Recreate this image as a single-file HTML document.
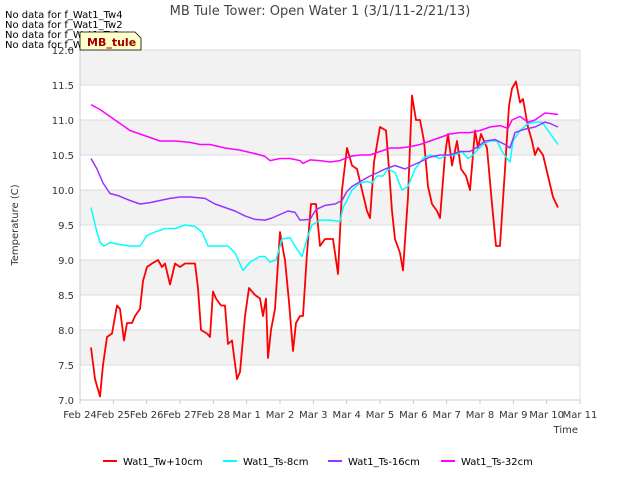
<!DOCTYPE html>
<html><head><meta charset="utf-8"><style>
body{margin:0;background:#fff;font-family:"Liberation Sans","DejaVu Sans",sans-serif}
svg text{font-family:"DejaVu Sans","Liberation Sans",sans-serif}
</style></head><body>
<svg id="c" width="640" height="480" xmlns="http://www.w3.org/2000/svg">
<rect width="640" height="480" fill="#fff"/>
<g id="bands"></g><g id="grid"></g>
<line x1="80" y1="50" x2="80" y2="400" stroke="#ccc"/>
<line x1="80" y1="400" x2="580" y2="400" stroke="#ccc"/>
<line x1="580" y1="50" x2="580" y2="400" stroke="#ddd"/>
<g id="yticks"></g><g id="xticks"></g><g id="series"></g>
<text x="320" y="15" text-anchor="middle" font-size="13" fill="#444">MB Tule Tower: Open Water 1 (3/1/11-2/21/13)</text>
<text x="18" y="225" text-anchor="middle" font-size="10" fill="#333" transform="rotate(-90 18 225)">Temperature (C)</text>
<text x="578" y="433" text-anchor="end" font-size="10" fill="#333">Time</text>
<g font-size="10" fill="#000">
<text x="5" y="18">No data for f_Wat1_Tw4</text>
<text x="5" y="28">No data for f_Wat1_Tw2</text>
<text x="5" y="38">No data for f_Wat1_Ts2</text>
<text x="5" y="48">No data for f_Wat1_Ts4</text>
</g>
<g>
<path d="M80,32 L135,32 L141,38 L141,50 L80,50 Z" fill="#ffffcc" stroke="#000" stroke-width="0.8"/>
<text x="87" y="46" font-size="11" font-weight="bold" fill="#a00000">MB_tule</text>
</g>
<g id="legend" font-size="10" fill="#000"></g>
</svg>
<script>
const yTicks=[7.0,7.5,8.0,8.5,9.0,9.5,10.0,10.5,11.0,11.5,12.0];
const xLabels=["Feb 24","Feb 25","Feb 26","Feb 27","Feb 28","Mar 1","Mar 2","Mar 3","Mar 4","Mar 5","Mar 6","Mar 7","Mar 8","Mar 9","Mar 10","Mar 11"];
const seriesNames=["Wat1_Tw+10cm","Wat1_Ts-8cm","Wat1_Ts-16cm","Wat1_Ts-32cm"];
const seriesColors=["#ff0000","#00ffff","#9933ff","#ff00ff"];
const tw10=[[.33,7.75],[.45,7.3],[.6,7.05],[.69,7.5],[.81,7.9],[.96,7.95],[1.11,8.35],[1.2,8.3],[1.32,7.85],[1.41,8.1],[1.56,8.1],[1.65,8.2],[1.8,8.3],[1.89,8.7],[2.01,8.9],[2.16,8.95],[2.34,9.0],[2.46,8.9],[2.55,8.95],[2.7,8.65],[2.85,8.95],[3.0,8.9],[3.15,8.95],[3.45,8.95],[3.54,8.6],[3.63,8.0],[3.81,7.95],[3.9,7.9],[3.99,8.55],[4.08,8.45],[4.23,8.35],[4.35,8.35],[4.44,7.8],[4.56,7.85],[4.71,7.3],[4.8,7.4],[4.95,8.2],[5.07,8.6],[5.25,8.5],[5.4,8.45],[5.49,8.2],[5.58,8.45],[5.64,7.6],[5.73,8.0],[5.85,8.3],[6.0,9.4],[6.09,9.15],[6.15,9.0],[6.27,8.4],[6.39,7.7],[6.48,8.1],[6.6,8.2],[6.69,8.2],[6.81,9.1],[6.93,9.8],[7.08,9.8],[7.2,9.2],[7.35,9.3],[7.59,9.3],[7.74,8.8],[7.86,10.0],[8.01,10.6],[8.16,10.35],[8.31,10.3],[8.46,10.0],[8.61,9.7],[8.7,9.6],[8.82,10.4],[9.0,10.9],[9.18,10.85],[9.27,10.3],[9.36,9.7],[9.45,9.3],[9.6,9.1],[9.69,8.85],[9.84,9.9],[9.96,11.35],[10.08,11.0],[10.2,11.0],[10.32,10.7],[10.44,10.05],[10.56,9.8],[10.71,9.7],[10.8,9.6],[10.95,10.5],[11.04,10.8],[11.16,10.35],[11.31,10.7],[11.43,10.3],[11.58,10.2],[11.7,10.0],[11.85,10.85],[11.94,10.6],[12.03,10.8],[12.21,10.6],[12.36,9.8],[12.48,9.2],[12.6,9.2],[12.75,10.3],[12.87,11.2],[12.96,11.45],[13.08,11.55],[13.2,11.25],[13.29,11.3],[13.44,10.9],[13.56,10.7],[13.65,10.5],[13.74,10.6],[13.89,10.5],[14.04,10.2],[14.19,9.9],[14.34,9.75]];
const ts8=[[.33,9.75],[.48,9.45],[.6,9.25],[.72,9.2],[.9,9.25],[1.2,9.22],[1.5,9.2],[1.8,9.2],[2.01,9.35],[2.25,9.4],[2.55,9.45],[2.85,9.45],[3.15,9.5],[3.45,9.48],[3.66,9.4],[3.84,9.2],[4.14,9.2],[4.44,9.2],[4.65,9.1],[4.89,8.85],[5.1,8.97],[5.4,9.05],[5.55,9.05],[5.7,8.97],[5.88,9.0],[6.06,9.3],[6.3,9.32],[6.45,9.2],[6.66,9.05],[6.84,9.35],[6.96,9.5],[7.2,9.57],[7.5,9.57],[7.8,9.55],[7.89,9.75],[8.01,9.85],[8.16,10.0],[8.4,10.1],[8.61,10.12],[8.76,10.1],[8.91,10.2],[9.09,10.2],[9.24,10.3],[9.45,10.25],[9.66,10.0],[9.84,10.05],[10.05,10.3],[10.29,10.45],[10.5,10.5],[10.8,10.45],[11.01,10.5],[11.25,10.5],[11.46,10.55],[11.64,10.45],[11.79,10.5],[11.94,10.58],[12.09,10.65],[12.3,10.7],[12.51,10.7],[12.66,10.55],[12.81,10.45],[12.9,10.4],[12.99,10.7],[13.2,10.85],[13.44,10.95],[13.65,10.97],[13.86,10.97],[14.04,10.85],[14.19,10.75],[14.34,10.65]];
const ts16=[[.33,10.45],[.51,10.3],[.69,10.1],[.9,9.95],[1.14,9.92],[1.5,9.85],[1.8,9.8],[2.1,9.82],[2.4,9.85],[2.7,9.88],[3.0,9.9],[3.3,9.9],[3.75,9.88],[4.05,9.8],[4.35,9.75],[4.65,9.7],[4.95,9.63],[5.25,9.58],[5.55,9.57],[5.76,9.6],[6.0,9.65],[6.24,9.7],[6.45,9.68],[6.6,9.57],[6.9,9.58],[7.08,9.72],[7.35,9.78],[7.65,9.8],[7.86,9.85],[8.01,9.98],[8.16,10.05],[8.4,10.12],[8.7,10.2],[8.94,10.25],[9.15,10.3],[9.45,10.35],[9.75,10.3],[9.96,10.35],[10.2,10.4],[10.5,10.47],[10.8,10.5],[11.1,10.5],[11.4,10.55],[11.7,10.55],[11.94,10.62],[12.15,10.7],[12.45,10.72],[12.75,10.65],[12.9,10.6],[13.05,10.82],[13.35,10.87],[13.65,10.9],[13.95,10.97],[14.1,10.95],[14.34,10.9]];
const ts32=[[.33,11.22],[.6,11.15],[.9,11.05],[1.2,10.95],[1.5,10.85],[1.8,10.8],[2.1,10.75],[2.4,10.7],[2.85,10.7],[3.3,10.68],[3.6,10.65],[3.9,10.65],[4.35,10.6],[4.8,10.57],[5.25,10.52],[5.55,10.48],[5.7,10.42],[6.0,10.45],[6.3,10.45],[6.6,10.42],[6.69,10.38],[6.9,10.43],[7.2,10.42],[7.5,10.4],[7.8,10.42],[8.1,10.48],[8.4,10.5],[8.7,10.5],[9.0,10.55],[9.3,10.6],[9.6,10.6],[9.9,10.62],[10.2,10.65],[10.5,10.7],[10.8,10.75],[11.1,10.8],[11.4,10.82],[11.7,10.82],[12.0,10.85],[12.3,10.9],[12.6,10.92],[12.84,10.88],[12.96,11.0],[13.2,11.05],[13.44,10.97],[13.65,11.0],[13.95,11.1],[14.34,11.08]];
const allSeries=[tw10,ts8,ts16,ts32];
const NS="http://www.w3.org/2000/svg";
const X0=80,X1=580,Y0=400,Y1=50,xMin=0,xMax=15,yMin=7,yMax=12;
const xs=d=>X0+(d-xMin)/(xMax-xMin)*(X1-X0);
const ys=v=>Y0-(v-yMin)/(yMax-yMin)*(Y0-Y1);
function mk(tag,attrs,parent,txt){const e=document.createElementNS(NS,tag);for(const k in attrs)e.setAttribute(k,attrs[k]);if(txt!=null)e.textContent=txt;parent.appendChild(e);return e;}
const bands=document.getElementById('bands'),grid=document.getElementById('grid'),yt=document.getElementById('yticks'),xt=document.getElementById('xticks'),sg=document.getElementById('series'),lg=document.getElementById('legend');
for(let i=0;i<yTicks.length-1;i++){if((yTicks.length-2-i)%2===0){const r=mk('rect',{x:X0,y:ys(yTicks[i+1]),width:X1-X0,height:ys(yTicks[i])-ys(yTicks[i+1]),fill:'#f2f2f2'},bands);

}}
yTicks.forEach(v=>{const l=mk('line',{x1:X0,x2:X1,y1:ys(v),y2:ys(v),stroke:'#dcdcdc'},grid);


const t=mk('text',{x:X0-6,y:ys(v)+4,'text-anchor':'end','font-size':10,fill:'#333'},yt,v.toFixed(1));

});
xLabels.forEach((s,i)=>{const x=xs(i);mk('line',{x1:x,x2:x,y1:Y0,y2:Y0+4,stroke:'#ccc'},xt);
const t=mk('text',{x:x,y:Y0+18,'text-anchor':'middle','font-size':10,fill:'#333'},xt,s);

});
allSeries.forEach((data,si)=>{const p=mk('polyline',{points:data.map(d=>xs(d[0]).toFixed(1)+','+ys(d[1]).toFixed(1)).join(' '),fill:'none',stroke:seriesColors[si],'stroke-width':si===0?1.8:1.5,'stroke-linejoin':'round'},sg);

});
const legX=[103,223,328,441];
seriesNames.forEach((n,i)=>{const g=mk('g',{},lg);


mk('line',{x1:legX[i],x2:legX[i]+14,y1:461,y2:461,stroke:seriesColors[i],'stroke-width':2},g);
mk('text',{x:legX[i]+20,y:465,'font-size':10,fill:'#000'},g,n);});
</script>
</body></html>
